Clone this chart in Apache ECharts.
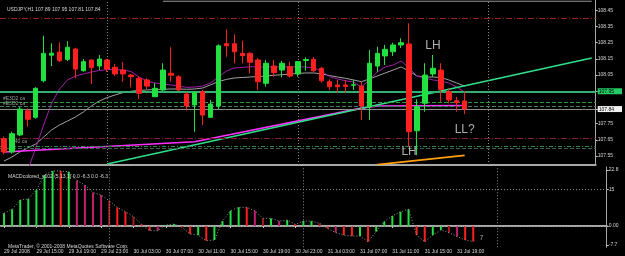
<!DOCTYPE html>
<html><head><meta charset="utf-8">
<script src="https://cdn.jsdelivr.net/npm/echarts@6/dist/echarts.min.js"></script>
<style>html,body{margin:0;padding:0;background:#000;}#c{width:625px;height:256px;}</style>
</head><body><div id="c"></div>
<script>
// ---- data ----
const tickLabels = ['29 Jul 2008','29 Jul 15:00','29 Jul 19:00','29 Jul 23:00','30 Jul 03:00','30 Jul 07:00','30 Jul 11:00','30 Jul 15:00','30 Jul 19:00','30 Jul 23:00','31 Jul 03:00','31 Jul 07:00','31 Jul 11:00','31 Jul 15:00','31 Jul 19:00'];
const slotCount = 75;      // bars visible incl. right shift
const barsPerTick = 4;
// open, close, low, high (H1 bars)
const opens  = [107.657,107.575,107.680,107.830,107.789,108.015,108.173,108.192,108.147,108.211,108.077,108.143,108.106,108.143,108.098,108.081,108.050,108.030,108.020,107.916,107.958,108.061,108.040,107.933,107.865,107.947,107.789,107.859,108.244,108.244,108.184,108.184,108.143,107.999,108.106,108.081,108.102,108.057,108.140,108.147,108.092,108.009,107.989,107.989,107.987,107.982,107.855,108.106,108.168,108.194,108.236,108.242,107.706,107.876,108.057,108.081,107.947,107.892,107.89];
const closes = [107.575,107.688,107.840,107.777,107.968,108.184,108.185,108.139,108.222,108.087,108.133,108.096,108.149,108.087,108.057,108.057,108.040,107.937,107.982,107.968,108.081,108.049,107.958,107.859,107.941,107.803,107.871,108.231,108.231,108.194,108.170,108.129,108.009,108.123,108.065,108.123,108.044,108.133,108.146,108.077,108.015,107.978,107.978,107.980,107.990,107.859,108.123,108.184,108.209,108.236,108.250,107.700,107.855,108.050,108.092,107.962,107.896,107.879,107.84];
const lows   = [107.560,107.565,107.672,107.731,107.780,108.005,108.106,108.131,108.137,108.030,108.071,107.995,108.081,108.069,108.044,108.009,107.974,107.902,107.962,107.914,107.951,108.009,107.951,107.830,107.700,107.742,107.785,107.838,108.163,108.123,108.123,108.061,107.958,107.978,108.040,108.036,108.034,108.040,108.077,108.069,108.003,107.958,107.941,107.941,107.958,107.772,107.772,108.071,108.112,108.168,108.217,107.606,107.556,107.824,108.040,107.885,107.876,107.824,107.81];
const highs  = [107.670,107.700,107.852,107.845,107.975,108.293,108.246,108.252,108.260,108.219,108.149,108.145,108.174,108.150,108.118,108.131,108.057,108.044,108.030,108.001,108.123,108.222,108.050,107.945,107.951,107.958,107.896,108.240,108.333,108.302,108.262,108.192,108.154,108.143,108.143,108.137,108.133,108.137,108.160,108.162,108.100,108.024,108.020,108.020,108.020,108.007,108.205,108.225,108.236,108.250,108.277,108.370,107.900,108.123,108.174,108.123,107.968,107.916,107.95];
// moving averages (null = off-chart)
const maPurple = [null,null,null,107.464,107.600,107.742,107.877,107.964,108.020,108.044,108.057,108.069,108.078,108.084,108.084,108.081,108.072,108.038,108.013,108.001,107.995,107.989,107.982,107.974,107.976,107.982,108.001,108.038,108.075,108.094,108.097,108.102,108.100,108.100,108.100,108.100,108.100,108.100,108.100,108.094,108.075,108.040,108.026,108.015,108.007,107.976,108.020,108.069,108.100,108.112,108.137,108.094,108.044,108.032,108.020,108.013,108.001,107.976,107.945];
const maGray   = [107.519,107.544,107.575,107.600,107.624,107.667,107.711,107.742,107.766,107.791,107.822,107.859,107.890,107.911,107.927,107.942,107.950,107.955,107.958,107.961,107.962,107.964,107.964,107.962,107.964,107.970,107.989,108.010,108.023,108.032,108.035,108.038,108.041,108.044,108.049,108.052,108.057,108.060,108.063,108.063,108.057,108.047,108.038,108.030,108.020,108.009,108.026,108.044,108.063,108.081,108.100,108.075,108.044,108.038,108.038,108.035,108.020,108.001,107.982];
// drawn objects: [bar index, price]
const magentaLine = [[0,107.575],[24,107.638],[45,107.846],[47,107.859],[58,107.862]];
const greenTrend  = [[13,107.501],[74,108.156]];
const orangeTrend = [[47,107.497],[58,107.554]];
const topLine     = [[20,108.506],[74,108.506]];
const levelRedTop   = 108.40;
const levelGreen    = 107.953;
const levelDash1    = 107.876;
const levelDash2    = 107.859;
const levelBid      = 107.84;
const levelRedLow   = 107.663;
const levelDash3    = 107.614;
const levelDash4    = 107.603;
const separators = [13, 37, 61];
const priceTicks = [108.45,108.35,108.25,108.15,108.05,107.95,107.84,107.75,107.65,107.55];
const notes = [{name:'LH', value:[54,108.234]},{name:'LH', value:[51,107.579]},{name:'LL?', value:[58,107.711]}];
// MACD histogram
const macdVals = [5.2,6.8,10.6,11.0,14.7,20.8,22.4,22.4,22.1,18.5,16.7,13.6,12.6,10.3,7.6,5.8,3.8,0.7,-1.9,-1.9,0.4,0.8,-0.5,-3.3,-3.7,-6.0,-5.7,2.0,6.2,7.6,7.6,6.2,3.1,3.1,2.0,2.4,0.7,2.0,2.0,1.1,-1.0,-2.7,-3.7,-4.1,-4.1,-6.4,-2.3,1.8,4.1,5.8,6.8,-3.7,-6.4,-3.7,-1.6,-2.7,-4.3,-5.7,-6.3];
const macdKinds = ['g','g','g','g','g','g','g','r','g','m','m','m','m','d','r','r','d','r','r','m','g','g','r','r','g','r','g','g','g','g','r','m','d','g','m','g','r','g','g','d','r','m','r','r','g','r','g','g','g','g','g','r','r','g','g','d','m','r','r'];
const macdTicks = [22.8, 15, 0, -7.7];
const macdLevels = [15, 0];
const macdNote = {name:'7', value:[59,-4.9]};

// ---- chart ----
const FONT = 'Liberation Sans';
const categories = Array.from({length: slotCount}, (_, i) => 'b' + i);
const tickText = i => (i % barsPerTick === 0 && tickLabels[i / barsPerTick]) ? tickLabels[i / barsPerTick] : '';
const candleData = opens.map((o, i) => [o, closes[i], lows[i], highs[i]]);
const kindColor = {g:'#22e040', r:'#ff2020', d:'#a81a1a', m:'#c0206a'};

const chart = echarts.init(document.getElementById('c'), null, {renderer:'canvas'});
chart.setOption({
  backgroundColor:'#000',
  animation:false,
  textStyle:{fontFamily:FONT},
  title:[
    {text:'USDJPY,H1 107.89 107.95 107.81 107.84', left:2, top:2, textStyle:{fontSize:5, color:'#d8d8d8', fontWeight:'normal', fontFamily:FONT}},
    {text:'MACDcolored_v102 (5,13,1) 0.0 -6.3 0.0 -6.3', left:3, top:169, textStyle:{fontSize:5, color:'#d8d8d8', fontWeight:'normal', fontFamily:FONT}},
    {text:'MetaTrader, © 2001-2008 MetaQuotes Software Corp.', left:3, top:239, textStyle:{fontSize:5, color:'#d8d8d8', fontWeight:'normal', fontFamily:FONT}}
  ],
  grid:[
    {left:-2.66, top:0, width:609.4, height:165},
    {left:-2.66, top:167, width:609.4, height:80.3}
  ],
  xAxis:[
    {type:'category', gridIndex:0, data:categories, boundaryGap:true,
     axisLine:{show:true, lineStyle:{color:'#a8a8a8', width:2}}, axisTick:{show:false}, axisLabel:{show:false}, splitLine:{show:false}},
    {type:'category', gridIndex:1, data:categories, boundaryGap:true,
     axisLine:{show:true, lineStyle:{color:'#a8a8a8', width:2}},
     axisTick:{show:true, alignWithLabel:true, length:2, interval:(i)=>tickText(i)!=='', lineStyle:{color:'#c8c8c8'}},
     axisLabel:{show:true, interval:0, align:'left', margin:2, fontSize:5, color:'#d8d8d8', fontFamily:FONT, formatter:(v,i)=>tickText(i)},
     splitLine:{show:false}}
  ],
  yAxis:[
    {type:'value', gridIndex:0, position:'right', min:107.4945, max:108.5137, scale:true,
     axisLine:{show:true, lineStyle:{color:'#a8a8a8', width:1}},
     axisTick:{show:true, length:2, customValues:priceTicks, lineStyle:{color:'#c8c8c8'}},
     axisLabel:{show:true, margin:2, fontSize:5, color:'#d8d8d8', fontFamily:FONT, customValues:priceTicks,
       formatter:(v)=> v===107.95 ? '{g|'+v.toFixed(2)+'}' : (v===107.84 ? '{w|'+v.toFixed(2)+'}' : v.toFixed(2)),
       rich:{g:{backgroundColor:'#22cc66', color:'#000', fontSize:5, padding:[1,8,0,1]}, w:{backgroundColor:'#f0f0f0', color:'#000', fontSize:5, padding:[1,8,0,1]}}},
     splitLine:{show:false}},
    {type:'value', gridIndex:1, position:'right', min:-8.67, max:24.02,
     axisLine:{show:true, lineStyle:{color:'#a8a8a8', width:1}},
     axisTick:{show:true, length:2, customValues:macdTicks, lineStyle:{color:'#c8c8c8'}},
     axisLabel:{show:true, margin:2, fontSize:5, color:'#d8d8d8', fontFamily:FONT, customValues:macdTicks,
       formatter:(v)=> v===0 ? '0.00' : String(v)},
     splitLine:{show:false}}
  ],
  series:[
    {type:'line', name:'gray MA', xAxisIndex:0, yAxisIndex:0, data:maGray, symbol:'none', lineStyle:{color:'#a0a0a0', width:1}, z:3,
     markLine:{symbol:'none', silent:true, animation:false,
       data:[
         {yAxis:levelRedTop, lineStyle:{color:'#a51c1c', type:[6,2,1,2], width:1}, label:{show:false}},
         {yAxis:levelGreen, lineStyle:{color:'#33b070', type:'solid', width:2}, label:{show:false}},
         {yAxis:levelDash1, lineStyle:{color:'#2a9a3a', type:[4,2], width:1}, label:{show:true, position:'insideStartTop', formatter:'#E3D2 ca', fontSize:5, color:'#9a9a9a', distance:[3,1]}},
         {yAxis:levelDash2, lineStyle:{color:'#3a7f60', type:[4,2], width:1}, label:{show:true, position:'insideStartTop', formatter:'#E3D2 ca', fontSize:5, color:'#9a9a9a', distance:[3,0]}},
         {yAxis:levelBid, lineStyle:{color:'#8c8c8c', type:'solid', width:1}, label:{show:false}},
         {yAxis:levelRedLow, lineStyle:{color:'#8a1a3a', type:[6,2,1,2], width:1}, label:{show:false}},
         {yAxis:levelDash3, lineStyle:{color:'#2a8a4a', type:[4,2,1,2], width:1}, label:{show:true, position:'insideStartTop', formatter:'#40 ca', fontSize:5, color:'#9a9a9a', distance:[12,2]}},
         {yAxis:levelDash4, lineStyle:{color:'#3a5f50', type:[4,2], width:1}, label:{show:false}}
       ].concat(separators.map(s => ({xAxis:s, lineStyle:{color:'#8a8a8a', type:[1,2], width:1}, label:{show:false}})))}},
    {type:'line', name:'purple MA', xAxisIndex:0, yAxisIndex:0, data:maPurple, symbol:'none', connectNulls:false, lineStyle:{color:'#a020a8', width:1}, z:3},
    {type:'line', name:'magenta', xAxisIndex:0, yAxisIndex:0, data:magentaLine, symbol:'none', lineStyle:{color:'#ff30ff', width:1.6}, z:4},
    {type:'line', name:'trend', xAxisIndex:0, yAxisIndex:0, data:greenTrend, symbol:'none', lineStyle:{color:'#2fe08a', width:1.6}, z:4},
    {type:'line', name:'orange', xAxisIndex:0, yAxisIndex:0, data:orangeTrend, symbol:'none', lineStyle:{color:'#ffa010', width:1.6}, z:4},
    {type:'line', name:'top', xAxisIndex:0, yAxisIndex:0, data:topLine, symbol:'none', lineStyle:{color:'#9a9a9a', width:1}, z:2},
    {type:'candlestick', xAxisIndex:0, yAxisIndex:0, data:candleData, barWidth:5, z:5,
     itemStyle:{color:'#22e040', color0:'#ff2020', borderColor:'#22e040', borderColor0:'#ff2020', borderWidth:1}},
    {type:'scatter', xAxisIndex:0, yAxisIndex:0, data:notes, symbolSize:0, z:6,
     label:{show:true, position:'inside', formatter:'{b}', fontSize:12, color:'#d8d8d8', fontFamily:FONT}},
    {type:'bar', xAxisIndex:1, yAxisIndex:1, barWidth:2, z:3,
     data: macdVals.map((v, i) => ({value:v, itemStyle:{color:kindColor[macdKinds[i]]}})),
     markLine:{symbol:'none', silent:true, label:{show:false},
       data: macdLevels.map(l => ({yAxis:l, lineStyle:{color:'#8a8a8a', type:[1,2], width:1}}))
         .concat(separators.map(s => ({xAxis:s, lineStyle:{color:'#8a8a8a', type:[1,2], width:1}})))}},
    {type:'line', xAxisIndex:1, yAxisIndex:1, data:macdVals, symbol:'none', lineStyle:{color:'#9a9a9a', type:[1,2], width:1}, z:4},
    {type:'scatter', xAxisIndex:1, yAxisIndex:1, data:[macdNote], symbolSize:0, z:6,
     label:{show:true, position:'inside', formatter:'{b}', fontSize:7, color:'#c8c8c8', fontFamily:FONT}}
  ]
});
</script></body></html>
